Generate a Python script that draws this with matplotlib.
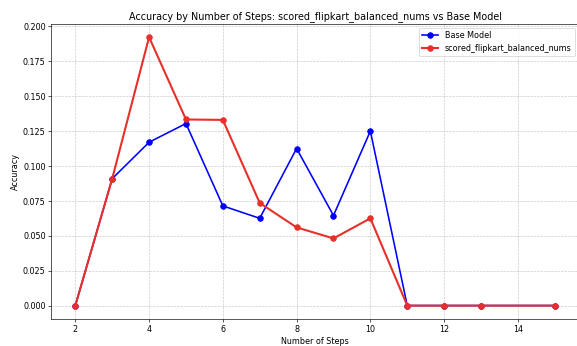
import matplotlib
matplotlib.use("Agg")
import matplotlib.pyplot as plt

# Accuracy per number of reasoning steps
steps = [2, 3, 4, 5, 6, 7, 8, 9, 10, 11, 12, 13, 15]
base_acc = [0.0, 0.0909, 0.1170, 0.1304, 0.0714, 0.0625, 0.1125, 0.0645, 0.1250, 0.0, 0.0, 0.0, 0.0]
tuned_acc = [0.0, 0.0909, 0.1923, 0.1333, 0.1330, 0.0735, 0.0560, 0.0481, 0.0625, 0.0, 0.0, 0.0, 0.0]
model_name = "scored_flipkart_balanced_nums"

fig = plt.figure(figsize=(10, 6), dpi=57.7)
plt.plot(steps, base_acc, marker='o', color='blue', linewidth=2, markersize=7, label='Base Model')
plt.plot(steps, tuned_acc, marker='o', color='#e8302a', linewidth=2.6, markersize=7,
         label=model_name)
plt.title(f"Accuracy by Number of Steps: {model_name} vs Base Model")
plt.xlabel("Number of Steps")
plt.ylabel("Accuracy")
plt.grid(True, linestyle='--', alpha=0.7)
plt.legend()
plt.subplots_adjust(left=0.089, right=1.003, top=0.931, bottom=0.078)
plt.savefig("out.png", dpi=57.7)
plt.close()
